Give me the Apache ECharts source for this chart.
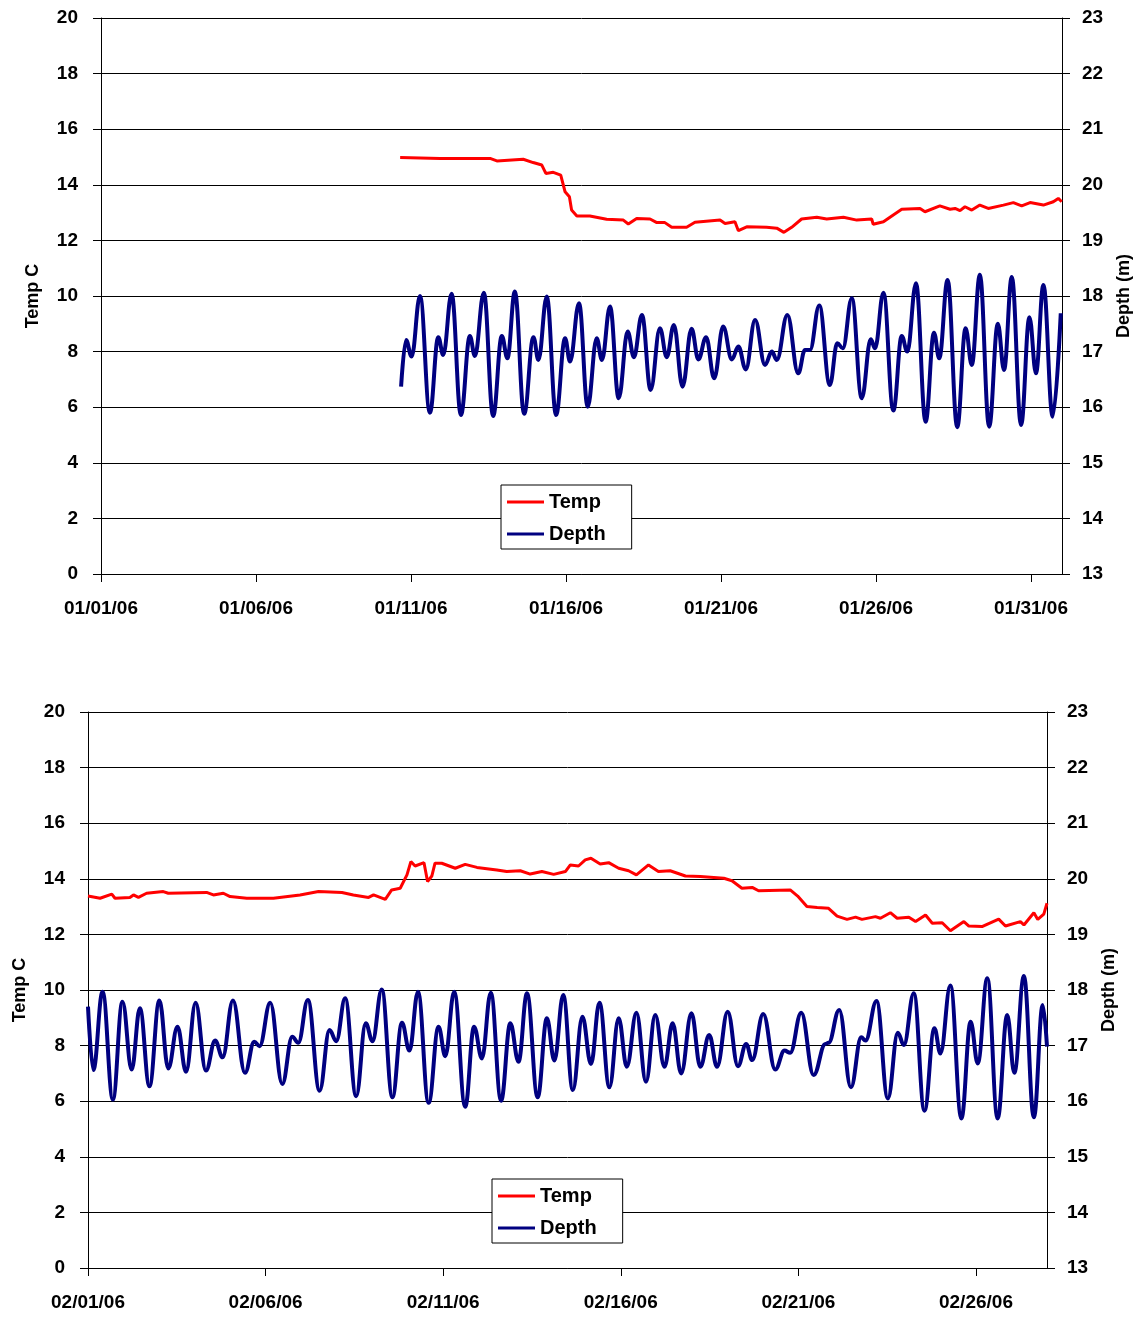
<!DOCTYPE html>
<html>
<head>
<meta charset="utf-8">
<script src="https://cdn.jsdelivr.net/npm/echarts@6/dist/echarts.min.js"></script>
<style>
  html, body { margin: 0; padding: 0; background: #fff; }
  #chart { width: 1142px; height: 1317px; }
</style>
</head>
<body>
<div id="chart"></div>
<script>
// day of month (fractional) and readings
const janTempDay = [10.65,11.94,13.55,13.77,14.62,14.94,15.22,15.35,15.59,15.83,15.97,16.11,16.18,16.35,16.77,17.31,17.85,18.01,18.28,18.71,18.93,19.19,19.41,19.89,20.16,20.97,21.13,21.45,21.56,21.83,22.47,22.80,23.03,23.28,23.60,24.09,24.41,24.95,25.38,25.86,25.91,26.24,26.51,26.83,27.42,27.58,28.06,28.39,28.55,28.71,28.87,29.09,29.35,29.62,30.11,30.43,30.70,30.97,31.40,31.72,31.88,31.99];
const janTemp = [14.98,14.95,14.95,14.86,14.92,14.80,14.71,14.41,14.45,14.35,13.75,13.57,13.09,12.88,12.88,12.76,12.73,12.59,12.79,12.77,12.64,12.64,12.47,12.47,12.65,12.73,12.61,12.67,12.35,12.49,12.47,12.44,12.29,12.47,12.77,12.83,12.77,12.83,12.73,12.77,12.58,12.67,12.88,13.12,13.15,13.03,13.24,13.12,13.15,13.07,13.21,13.09,13.27,13.15,13.27,13.36,13.24,13.36,13.27,13.39,13.51,13.39];

const janDepthDay = [10.68,10.84,11.02,11.29,11.61,11.88,12.04,12.31,12.61,12.90,13.06,13.35,13.65,13.93,14.11,14.35,14.65,14.95,15.11,15.38,15.68,15.97,16.13,16.42,16.70,16.99,17.16,17.42,17.70,17.99,18.19,18.45,18.73,19.03,19.25,19.48,19.76,20.05,20.27,20.52,20.78,21.07,21.35,21.56,21.80,22.10,22.42,22.64,22.80,23.14,23.49,23.71,23.87,24.17,24.51,24.75,24.93,25.22,25.54,25.83,25.97,26.24,26.56,26.83,27.01,27.29,27.60,27.87,28.04,28.31,28.62,28.89,29.09,29.35,29.65,29.93,30.13,30.38,30.68,30.95,31.16,31.40,31.70,31.96];
const janDepth = [16.37,17.21,16.91,18.00,15.90,17.26,16.94,18.04,15.86,17.28,16.92,18.06,15.84,17.28,16.88,18.08,15.88,17.26,16.85,17.99,15.86,17.24,16.82,17.87,16.01,17.24,16.85,17.81,16.16,17.36,16.90,17.66,16.31,17.42,16.90,17.48,16.37,17.41,16.86,17.26,16.52,17.45,16.86,17.09,16.68,17.57,16.76,17.00,16.85,17.66,16.61,17.03,17.03,17.83,16.40,17.15,17.06,17.96,16.16,17.22,17.06,18.06,15.94,17.28,17.00,18.23,15.74,17.34,16.88,18.29,15.64,17.42,16.76,18.38,15.65,17.50,16.67,18.34,15.68,17.62,16.61,18.20,15.83,17.69];

const febTempDay = [1.00,1.34,1.67,1.76,2.18,2.28,2.42,2.65,3.12,3.26,4.34,4.53,4.81,5.00,5.47,6.22,6.97,7.49,8.15,8.47,8.90,9.04,9.37,9.55,9.79,9.98,10.09,10.21,10.46,10.56,10.68,10.77,10.96,11.34,11.62,11.95,12.51,12.79,13.17,13.45,13.78,14.11,14.44,14.58,14.81,15.00,15.16,15.42,15.66,15.94,16.22,16.44,16.78,17.06,17.39,17.82,18.24,18.90,19.13,19.41,19.70,19.88,20.77,20.98,21.24,21.53,21.85,22.09,22.37,22.61,22.79,23.17,23.31,23.59,23.78,24.11,24.30,24.58,24.77,25.05,25.28,25.66,25.80,26.17,26.64,26.83,27.25,27.35,27.63,27.74,27.91,28.00];
const febTemp = [13.38,13.30,13.45,13.30,13.33,13.42,13.33,13.48,13.54,13.48,13.51,13.42,13.48,13.36,13.30,13.30,13.42,13.54,13.51,13.42,13.33,13.42,13.26,13.60,13.66,14.14,14.62,14.46,14.58,13.90,14.10,14.56,14.56,14.38,14.52,14.41,14.32,14.26,14.29,14.17,14.26,14.16,14.26,14.50,14.46,14.68,14.74,14.53,14.58,14.38,14.29,14.14,14.50,14.26,14.29,14.10,14.08,14.02,13.93,13.66,13.69,13.57,13.60,13.38,13.00,12.97,12.94,12.66,12.54,12.62,12.54,12.64,12.58,12.78,12.58,12.62,12.46,12.70,12.40,12.42,12.13,12.46,12.30,12.28,12.55,12.30,12.46,12.34,12.78,12.54,12.73,13.12];

const febDepthDay = [1.00,1.15,1.41,1.70,1.97,2.23,2.46,2.73,3.01,3.26,3.52,3.76,4.03,4.32,4.58,4.79,5.08,5.42,5.68,5.83,6.13,6.47,6.75,6.92,7.19,7.52,7.80,7.99,8.24,8.55,8.82,9.01,9.27,9.57,9.84,10.05,10.29,10.59,10.87,11.06,11.31,11.62,11.87,12.09,12.34,12.63,12.89,13.12,13.36,13.66,13.92,14.13,14.38,14.65,14.92,15.16,15.40,15.68,15.94,16.17,16.44,16.71,16.97,17.23,17.46,17.70,17.99,18.24,18.49,18.71,19.01,19.30,19.53,19.70,20.01,20.35,20.61,20.77,21.08,21.43,21.76,21.85,22.15,22.48,22.77,22.89,23.20,23.52,23.80,23.97,24.25,24.55,24.83,25.00,25.28,25.59,25.85,26.05,26.32,26.61,26.88,27.08,27.35,27.63,27.88,28.00];
const febDepth = [17.70,16.56,17.97,16.03,17.79,16.57,17.67,16.27,17.81,16.59,17.34,16.53,17.77,16.55,17.09,16.79,17.81,16.51,17.07,16.99,17.77,16.31,17.16,17.05,17.82,16.19,17.28,17.08,17.85,16.09,17.40,17.08,18.01,16.07,17.41,16.91,17.97,15.97,17.34,16.81,17.97,15.90,17.34,16.77,17.95,16.01,17.40,16.71,17.94,16.07,17.49,16.73,17.91,16.20,17.52,16.67,17.77,16.25,17.49,16.62,17.59,16.35,17.55,16.62,17.40,16.50,17.58,16.62,17.19,16.62,17.61,16.63,17.03,16.74,17.57,16.57,16.91,16.87,17.59,16.47,17.03,17.05,17.64,16.25,17.15,17.09,17.80,16.05,17.23,17.01,17.94,15.83,17.31,16.86,18.08,15.69,17.43,16.68,18.21,15.69,17.55,16.51,18.25,15.71,17.73,16.98];

const janTickLabels = ['01/01/06','01/06/06','01/11/06','01/16/06','01/21/06','01/26/06','01/31/06'];
const febTickLabels = ['02/01/06','02/06/06','02/11/06','02/16/06','02/21/06','02/26/06'];

const FONT = '"Liberation Sans", Arial, sans-serif';

// x is days since the first of the month
const pairs = (days, vals) => days.map((d, i) => [d - 1, vals[i]]);

const chart = echarts.init(document.getElementById('chart'), null, { renderer: 'canvas' });

const xAxisFor = (grid, max, labels) => ({
    gridIndex: grid,
    type: 'value',
    min: 0,
    max: max,
    interval: 5,
    axisLine: { show: true, onZero: false, lineStyle: { color: '#000', width: 1 } },
    axisTick: { show: true, length: 8, lineStyle: { color: '#000' } },
    splitLine: { show: false },
    axisLabel: {
        margin: 25,
        showMaxLabel: false,
        color: '#000',
        fontFamily: FONT,
        fontWeight: 'bold',
        fontSize: 19,
        formatter: v => labels[Math.round(v / 5)] || ''
    }
});

const tempAxis = (grid) => ({
    gridIndex: grid,
    type: 'value',
    position: 'left',
    min: 0,
    max: 20,
    interval: 2,
    name: 'Temp C',
    nameLocation: 'middle',
    nameRotate: 90,
    nameGap: 59,
    nameTextStyle: { color: '#000', fontFamily: FONT, fontWeight: 'bold', fontSize: 18 },
    axisLine: { show: true, lineStyle: { color: '#000', width: 1 } },
    axisTick: { show: true, length: 8, lineStyle: { color: '#000' } },
    splitLine: { show: true, lineStyle: { color: '#000', width: 1 } },
    axisLabel: { margin: 23, color: '#000', fontFamily: FONT, fontWeight: 'bold', fontSize: 19 }
});

const depthAxis = (grid) => ({
    gridIndex: grid,
    type: 'value',
    position: 'right',
    min: 13,
    max: 23,
    interval: 1,
    name: 'Depth (m)',
    nameLocation: 'middle',
    nameRotate: 90,
    nameGap: 53,
    nameTextStyle: { color: '#000', fontFamily: FONT, fontWeight: 'bold', fontSize: 18 },
    axisLine: { show: true, lineStyle: { color: '#000', width: 1 } },
    axisTick: { show: true, length: 8, lineStyle: { color: '#000' } },
    splitLine: { show: false },
    axisLabel: { margin: 20, color: '#000', fontFamily: FONT, fontWeight: 'bold', fontSize: 19 }
});

const legendAt = (left, top) => ({
    left: left,
    top: top,
    orient: 'vertical',
    data: ['Temp', 'Depth'],
    icon: 'rect',
    backgroundColor: '#fff',
    borderColor: '#000',
    borderWidth: 1,
    padding: [7, 26, 5, 6],
    itemWidth: 37,
    itemHeight: 3,
    itemGap: 12,
    selectedMode: false,
    textStyle: { color: '#000', fontFamily: FONT, fontWeight: 'bold', fontSize: 20 }
});

const tempSeries = (ax, data) => ({
    name: 'Temp',
    type: 'line',
    xAxisIndex: ax,
    yAxisIndex: ax * 2,
    data: data,
    symbol: 'none',
    color: '#ff0000',
    lineStyle: { color: '#ff0000', width: 3 }
});

const depthSeries = (ax, data) => ({
    name: 'Depth',
    type: 'line',
    xAxisIndex: ax,
    yAxisIndex: ax * 2 + 1,
    data: data,
    symbol: 'none',
    smooth: 0.4,
    smoothMonotone: 'x',
    color: '#000080',
    lineStyle: { color: '#000080', width: 4 }
});

const option = {
    animation: false,
    backgroundColor: '#fff',
    grid: [
        { left: 101, top: 18, width: 961, height: 556 },
        { left: 88, top: 712, width: 959, height: 556 }
    ],
    xAxis: [xAxisFor(0, 31, janTickLabels), xAxisFor(1, 27, febTickLabels)],
    yAxis: [tempAxis(0), depthAxis(0), tempAxis(1), depthAxis(1)],
    legend: [legendAt(501, 485), legendAt(492, 1179)],
    series: [
        tempSeries(0, pairs(janTempDay, janTemp)),
        depthSeries(0, pairs(janDepthDay, janDepth)),
        tempSeries(1, pairs(febTempDay, febTemp)),
        depthSeries(1, pairs(febDepthDay, febDepth))
    ]
};

chart.setOption(option);
</script>
</body>
</html>
